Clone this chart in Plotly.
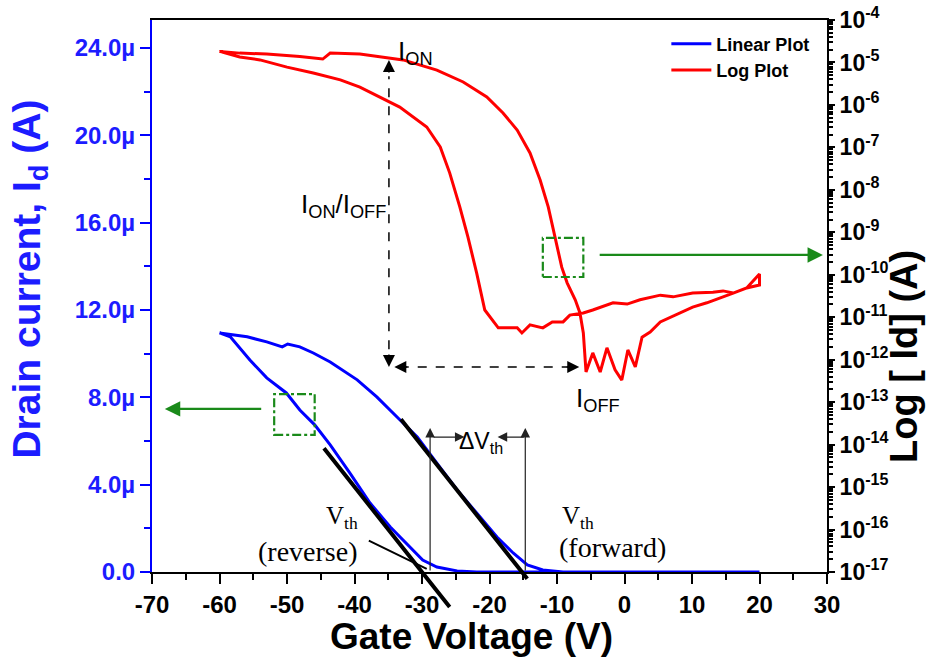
import plotly.graph_objects as go

# ---------------- data ----------------
# Linear plot (blue), gate voltage (V) and drain current (µA); loop -60 -> 20 -> -60
lin_v = [-60, -58.4, -55.5, -53.0, -50.1, -48.1, -45.9, -43.6, -40.7, -37.7, -34.7, -31.8,
         -29.9, -27.8, -24.8, -21.9, -15, -5, 5, 20,
         20, 5, -5, -9.1, -12.1, -14.4, -16.5, -18.9, -21.9, -24.8, -27.8, -30.7, -33.7,
         -36.7, -39.6, -41.1, -43.6, -46.1, -48.1, -49.9, -50.7, -53.0, -55.9, -60]
lin_i = [10.95, 10.77, 9.71, 8.89, 8.20, 7.42, 6.74, 5.82, 4.54, 3.16, 2.06, 1.15,
         0.55, 0.23, 0.05, 0.0, 0.0, 0.0, 0.0, 0.0,
         0.0, 0.0, 0.0, 0.0, 0.09, 0.32, 0.87, 1.60, 2.70, 3.76, 4.99, 6.18, 7.10,
         8.02, 8.80, 9.12, 9.62, 10.03, 10.31, 10.44, 10.31, 10.54, 10.77, 10.95]

# Log plot (red): exponent of drain current, log10(I / A)
log_v = [-60, -57.0, -54.0, -50.0, -46.1, -42.1, -39.2, -36.2, -33.3, -29.3, -27.3, -25.9,
         -24.4, -23.2, -21.9, -20.7, -18.7, -15.9, -15.2, -14.0, -12.1, -10.7, -9.1, -8.1,
         -6.1, -4.7, -1.7, 0.4, 2.3, 5.3, 7.2, 10.1, 13.1, 14.6, 16.1, 18.1, 20.0,
         20.0, 18.1, 16.1, 14.1, 12.2, 10.1, 8.2, 6.7, 5.3, 3.8, 2.6, 1.6, 0.5, -0.4,
         -1.4, -2.6, -3.6, -4.7, -5.7, -6.1, -6.6, -7.3, -8.5, -9.3, -10.3, -11.3, -12.5,
         -14.0, -15.9, -18.0, -20.4, -23.9, -27.8, -32.8, -35.2, -39.2, -43.6, -44.7,
         -48.1, -53.0, -57.0, -60]
log_exp = [-4.74, -4.87, -4.94, -5.11, -5.25, -5.41, -5.58, -5.81, -6.05, -6.52, -6.99, -7.60,
           -8.40, -9.11, -9.96, -10.83, -11.25, -11.25, -11.37, -11.18, -11.25, -11.11, -11.11, -10.95,
           -10.90, -10.83, -10.66, -10.69, -10.59, -10.48, -10.52, -10.43, -10.41, -10.38, -10.43, -10.31, -10.24,
           -9.98, -10.31, -10.43, -10.55, -10.66, -10.76, -10.90, -11.02, -11.11, -11.35, -11.47, -12.17, -11.77, -12.48,
           -12.24, -11.72, -12.29, -11.84, -12.29, -11.37, -10.90, -10.59, -10.19, -9.82, -9.11, -8.40, -7.77,
           -7.13, -6.59, -6.19, -5.81, -5.46, -5.18, -4.94, -4.89, -4.80, -4.78, -4.92,
           -4.86, -4.80, -4.78, -4.74]

# threshold voltages and tangent slope (µA/V)
vth_rev = -30.0
vth_fwd = -15.2
tangent_slope = -0.39
tan_rev_span = [-44.7, -25.9]
tan_fwd_span = [-33.3, -14.4]

# axis ticks
x_ticks = [-70, -60, -50, -40, -30, -20, -10, 0, 10, 20, 30]
y_ticks = [0, 4, 8, 12, 16, 20, 24]
y_ticktext = ["0.0", "4.0µ", "8.0µ", "12.0µ", "16.0µ", "20.0µ", "24.0µ"]
log_exponents = list(range(-17, -3))
log_ticktext = ["10<sup>%d</sup>" % k for k in log_exponents]

BLUE = "#0000ff"
TXTBLUE = "#1c1cff"
RED = "#ff0000"
GREEN = "#1a8a1a"
FONT = "Arial, Liberation Sans, sans-serif"
SERIF = "Times New Roman, Liberation Serif, serif"

fig = go.Figure()
fig.add_trace(go.Scatter(x=lin_v, y=lin_i, mode="lines", name="Linear Plot",
                         line=dict(color=BLUE, width=3), yaxis="y"))
fig.add_trace(go.Scatter(x=log_v, y=[10 ** e for e in log_exp], mode="lines", name="Log Plot",
                         line=dict(color=RED, width=3), yaxis="y2"))

ann = []

def line_ann(x0, y0, x1, y1, width, color, head=0, size=1.0):
    ann.append(dict(x=x1, y=y1, ax=x0, ay=y0, xref="x", yref="y", axref="x", ayref="y",
                    text="", showarrow=True, arrowhead=head, arrowsize=size, arrowwidth=width,
                    arrowcolor=color, standoff=0, startstandoff=0))

def head_ann(x, y, dx, dy, color="black", width=1.5, size=1.6, head=2):
    ann.append(dict(x=x, y=y, ax=dx, ay=dy, xref="x", yref="y", text="", showarrow=True,
                    arrowhead=head, arrowsize=size, arrowwidth=width, arrowcolor=color,
                    standoff=0, startstandoff=0))

# tangent lines
for vth, span in ((vth_rev, tan_rev_span), (vth_fwd, tan_fwd_span)):
    line_ann(span[0], tangent_slope * (span[0] - vth), span[1], tangent_slope * (span[1] - vth),
             4, "black")

# thin vertical arrows and delta Vth arrows
line_ann(-28.8, 0, -28.8, 6.6, 1.2, "#222222", head=2, size=1.6)
line_ann(-14.7, 0, -14.7, 6.6, 1.2, "#222222", head=2, size=1.6)
line_ann(-28.5, 6.18, -23.7, 6.18, 1.2, "#222222", head=2, size=1.6)
line_ann(-14.7, 6.18, -18.8, 6.18, 1.2, "#222222", head=2, size=1.6)
# leader line for V_th (reverse)
line_ann(-38.1, 1.47, -29.3, 0.14, 2, "black")

# green arrows
line_ann(-3.9, 14.52, 29.4, 14.52, 2.2, GREEN, head=2, size=1.4)
line_ann(-53.6, 7.47, -68.1, 7.47, 2.2, GREEN, head=2, size=1.4)

# dashed arrows heads
head_ann(-34.9, 23.45, 0, 14)
head_ann(-34.9, 9.39, 0, -14)
head_ann(-34.1, 9.39, 14, 0)
head_ann(-6.7, 9.39, -14, 0)

def text_ann(x, y, text, size, family=FONT, color="black", xref="x", yref="y", angle=0, bold=False):
    ann.append(dict(x=x, y=y, xref=xref, yref=yref, text=text, showarrow=False, textangle=angle,
                    font=dict(family=family, size=size, color=color, weight="bold" if bold else "normal"),
                    xanchor="center", yanchor="middle"))

text_ann(-31.0, 23.8, "I<sub>ON</sub>", 26)
text_ann(-41.6, 16.8, "I<sub>ON</sub>/I<sub>OFF</sub>", 26)
text_ann(-4.0, 7.9, "I<sub>OFF</sub>", 26)
text_ann(-21.3, 5.95, "ΔV<sub>th</sub>", 23)
text_ann(-41.8, 2.5, "V<sub>th</sub>", 25, family=SERIF)
text_ann(-47.0, 0.92, "(reverse)", 28, family=SERIF)
text_ann(-6.9, 2.5, "V<sub>th</sub>", 25, family=SERIF)
text_ann(-1.85, 1.10, "(forward)", 28, family=SERIF)

# axis titles
text_ann(-0.182, 0.53, "Drain current, I<sub>d</sub> (A)", 39, color=TXTBLUE,
         xref="paper", yref="paper", angle=-90, bold=True)
text_ann(1.113, 0.39, "Log [ Id] (A)", 38, xref="paper", yref="paper", angle=-90, bold=True)
text_ann(0.473, -0.116, "Gate Voltage (V)", 37, xref="paper", yref="paper", bold=True)

shapes = [
    dict(type="line", xref="x", yref="y", x0=-34.9, x1=-34.9, y0=10.2, y1=22.7,
         line=dict(color="black", width=1.5, dash="dash")),
    dict(type="line", xref="x", yref="y", x0=-33.3, x1=-7.5, y0=9.39, y1=9.39,
         line=dict(color="black", width=1.5, dash="dash")),
    dict(type="rect", xref="x", yref="y", x0=-12.1, x1=-6.1, y0=13.51, y1=15.30,
         line=dict(color=GREEN, width=2.2, dash="dashdot")),
    dict(type="rect", xref="x", yref="y", x0=-51.9, x1=-45.9, y0=6.28, y1=8.15,
         line=dict(color=GREEN, width=2.2, dash="dashdot")),
]

tickfont = dict(family=FONT, size=24, color="black", weight="bold")

fig.update_layout(
    width=927, height=657,
    margin=dict(l=152, r=100, t=20, b=85, autoexpand=False),
    paper_bgcolor="white", plot_bgcolor="white",
    showlegend=True,
    legend=dict(x=0.762, y=0.99, xanchor="left", yanchor="top", bgcolor="rgba(0,0,0,0)",
                font=dict(family=FONT, size=18, color="black", weight="bold"),
                tracegroupgap=0, itemwidth=40),
    xaxis=dict(range=[-70, 30], tickvals=x_ticks, ticktext=[str(v) for v in x_ticks],
               ticks="outside", ticklen=10, tickwidth=2, tickcolor="black",
               minor=dict(dtick=5, tick0=-70, ticks="outside", ticklen=6, tickwidth=2, tickcolor="black"),
               showline=True, linecolor="black", linewidth=2, mirror=True, automargin=False,
               showgrid=False, zeroline=False, tickfont=tickfont, layer="below traces"),
    xaxis2=dict(range=[-70, 30], overlaying="x", side="top", anchor="y", automargin=False,
                tickvals=x_ticks, ticks="inside", ticklen=10, tickwidth=2, tickcolor="black",
                minor=dict(dtick=5, tick0=-70, ticks="inside", ticklen=6, tickwidth=2, tickcolor="black"),
                showticklabels=False, showline=False, showgrid=False, zeroline=False),
    yaxis=dict(range=[0, 25.28], tickvals=y_ticks, ticktext=y_ticktext, automargin=False,
               ticks="outside", ticklen=10, tickwidth=2, tickcolor=BLUE,
               minor=dict(dtick=2, tick0=0, ticks="outside", ticklen=6, tickwidth=2, tickcolor=BLUE),
               showline=True, linecolor=BLUE, linewidth=2, showgrid=False, zeroline=False,
               tickfont=dict(family=FONT, size=24, color=TXTBLUE, weight="bold")),
    yaxis2=dict(type="log", range=[-17, -4], overlaying="y", side="right", automargin=False,
                tickvals=[10 ** k for k in log_exponents], ticktext=log_ticktext,
                ticks="outside", ticklen=6, tickwidth=2, tickcolor="black",
                minor=dict(dtick="D1", ticks="outside", ticklen=4, tickwidth=1.5, tickcolor="black"),
                showline=True, linecolor="black", linewidth=2, showgrid=False, zeroline=False,
                tickfont=dict(family=FONT, size=23, color="black", weight="bold")),
    annotations=ann,
    shapes=shapes,
)

fig.write_html("out.html")
